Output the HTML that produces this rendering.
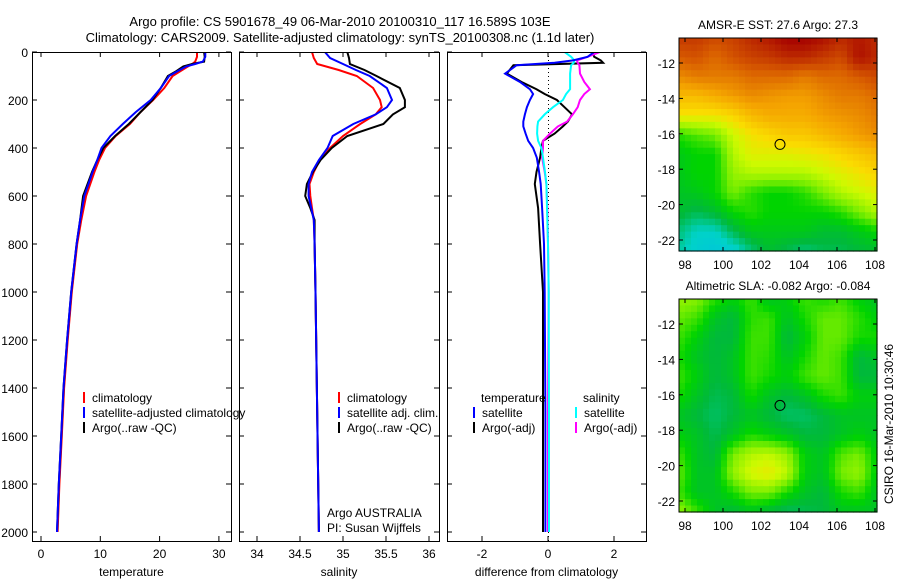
<!DOCTYPE html>
<html><head><meta charset="utf-8"><style>
body{margin:0;background:#fff;width:900px;height:580px;overflow:hidden}
svg{font-family:"Liberation Sans",sans-serif;font-size:12px}
</style></head><body>
<svg id="s" width="900" height="580" xmlns="http://www.w3.org/2000/svg">
<text x="340" y="26" text-anchor="middle" font-size="13">Argo profile: CS 5901678_49 06-Mar-2010 20100310_117 16.589S 103E</text>
<text x="340" y="42" text-anchor="middle" font-size="13">Climatology: CARS2009. Satellite-adjusted climatology: synTS_20100308.nc (1.1d later)</text>
<g id="g"></g>
<text transform="translate(893,424) rotate(-90)" text-anchor="middle">CSIRO 16-Mar-2010 10:30:46</text>
</svg>
<script>
// ---- profile data ----
const tDepth=[0,20,40,50,60,80,100,150,200,250,300,350,400,450,500,600,700,800,1000,1200,1400,1600,1800,2000];
const tClim=[26.3,26.3,26.0,25.5,24.8,23.5,22.2,20.8,18.9,16.8,15.0,12.6,10.8,9.8,9.0,7.6,6.8,6.1,5.2,4.5,3.9,3.5,3.1,2.8];
const tSat=[27.7,27.7,27.3,26.0,24.5,23.0,21.6,20.2,18.5,16.0,13.8,11.7,10.2,9.5,8.7,7.3,6.6,6.0,5.1,4.4,3.8,3.4,3.0,2.7];
const tArgo=[27.5,27.6,27.5,25.5,24.0,22.8,21.4,20.2,18.8,16.8,14.8,12.5,10.5,9.5,8.6,7.1,6.6,6.0,5.1,4.4,3.8,3.4,3.0,2.7];
const sDepth=[0,25,50,75,100,150,200,230,260,300,350,400,450,500,550,600,650,700,800,1000,1500,2000];
const sClim=[34.64,34.66,34.70,34.95,35.16,35.35,35.43,35.45,35.38,35.20,35.00,34.85,34.73,34.66,34.61,34.62,34.64,34.66,34.67,34.68,34.70,34.72];
const sSat=[34.79,34.85,35.0,35.15,35.31,35.51,35.57,35.51,35.38,35.12,34.88,34.82,34.72,34.64,34.60,34.60,34.63,34.66,34.67,34.68,34.70,34.72];
const sArgo=[35.05,35.07,35.08,35.25,35.39,35.66,35.72,35.72,35.58,35.47,35.05,34.87,34.74,34.65,34.58,34.56,34.62,34.67,34.67,34.68,34.70,34.72];
const dDepth=[0,20,35,45,55,90,125,155,175,200,230,260,290,310,340,370,400,440,500,550,650,800,1000,1500,2000];
const dTSat=[1.4,1.2,0.76,0.2,-0.95,-1.3,-0.85,-0.55,-0.45,-0.55,-0.64,-0.7,-0.75,-0.75,-0.68,-0.6,-0.45,-0.34,-0.27,-0.22,-0.18,-0.12,-0.1,-0.08,-0.08];
const dTArgo=[1.35,1.4,1.6,1.67,-1.05,-1.25,-0.8,-0.35,-0.1,0.27,0.5,0.73,0.6,0.45,0.2,-0.15,-0.2,-0.24,-0.35,-0.4,-0.3,-0.24,-0.15,-0.15,-0.15];
const dSSat=[0.5,0.7,0.8,0.78,0.7,0.67,0.67,0.67,0.55,0.45,0.15,-0.1,-0.3,-0.32,-0.33,-0.3,-0.2,-0.15,-0.09,-0.05,-0.03,0.0,0.02,0.03,0.03];
const dSArgo=[1.58,1.2,0.88,0.9,0.95,0.97,1.1,1.27,1.1,0.97,0.9,0.75,0.58,0.3,0.06,-0.15,-0.15,-0.18,-0.1,-0.05,-0.02,0.0,0.02,0.0,0.0];
const depthTicks=[0,200,400,600,800,1000,1200,1400,1600,1800,2000];
const tTicks=[0,10,20,30];
const sTicks=[34,34.5,35,35.5,36];
const dTicks=[-2,0,2];
// ---- map data (normalised colour value 0..1) ----
const sstGrid=[
[0.88,0.88,0.86,0.87,0.9,0.92,0.95,0.95,0.93,0.9,0.92,0.9],
[0.84,0.85,0.82,0.85,0.87,0.88,0.9,0.9,0.88,0.86,0.93,0.9],
[0.78,0.8,0.8,0.8,0.82,0.82,0.82,0.8,0.82,0.82,0.84,0.86],
[0.72,0.72,0.74,0.76,0.78,0.77,0.76,0.76,0.78,0.8,0.8,0.82],
[0.66,0.66,0.66,0.68,0.72,0.74,0.74,0.74,0.76,0.77,0.78,0.8],
[0.52,0.54,0.56,0.62,0.66,0.68,0.7,0.7,0.72,0.74,0.76,0.78],
[0.48,0.5,0.5,0.6,0.64,0.64,0.64,0.65,0.66,0.68,0.7,0.72],
[0.48,0.5,0.5,0.58,0.6,0.6,0.6,0.6,0.62,0.64,0.66,0.68],
[0.47,0.48,0.5,0.56,0.52,0.5,0.5,0.52,0.56,0.6,0.62,0.64],
[0.46,0.44,0.46,0.5,0.52,0.5,0.5,0.5,0.5,0.52,0.56,0.6],
[0.42,0.38,0.38,0.44,0.48,0.48,0.48,0.48,0.46,0.46,0.48,0.5],
[0.4,0.36,0.34,0.36,0.42,0.46,0.44,0.42,0.44,0.44,0.45,0.46]];
const slaGrid=[
[0.58,0.57,0.52,0.49,0.53,0.47,0.49,0.53,0.51,0.53,0.49,0.47],
[0.55,0.53,0.47,0.45,0.52,0.53,0.47,0.51,0.55,0.55,0.52,0.49],
[0.53,0.49,0.45,0.45,0.53,0.53,0.45,0.49,0.55,0.55,0.51,0.51],
[0.51,0.47,0.45,0.47,0.53,0.52,0.47,0.51,0.55,0.53,0.45,0.47],
[0.53,0.49,0.45,0.47,0.53,0.51,0.49,0.53,0.55,0.53,0.45,0.45],
[0.51,0.47,0.44,0.45,0.51,0.47,0.45,0.47,0.51,0.53,0.49,0.49],
[0.47,0.45,0.43,0.45,0.47,0.45,0.43,0.43,0.45,0.47,0.47,0.47],
[0.49,0.47,0.44,0.47,0.51,0.49,0.47,0.45,0.45,0.47,0.49,0.47],
[0.53,0.47,0.45,0.56,0.6,0.61,0.58,0.49,0.47,0.54,0.56,0.49],
[0.55,0.47,0.47,0.58,0.63,0.65,0.61,0.49,0.47,0.56,0.58,0.49],
[0.53,0.47,0.47,0.51,0.56,0.56,0.51,0.47,0.45,0.51,0.53,0.47],
[0.58,0.53,0.47,0.45,0.47,0.45,0.43,0.44,0.45,0.47,0.47,0.47]];
const latTicks=[-12,-14,-16,-18,-20,-22];
const lonTicks=[98,100,102,104,106,108];
const argoLon=103, argoLat=-16.6;

const NS="http://www.w3.org/2000/svg", G=document.getElementById('g');
function el(t,a,p){const e=document.createElementNS(NS,t);for(const k in a)e.setAttribute(k,a[k]);(p||G).appendChild(e);return e;}
function txt(x,y,s,anchor,p){const e=el('text',{x:x,y:y,'text-anchor':anchor||'start'},p);e.textContent=s;return e;}
const yTop=52,yBot=541;
const yD=d=>yTop+d*0.24;
function panel(name,x0,x1,xf,ticks,label,series,depths){
  const g=el('g',{});
  
  
  const cp='clip-'+name;
  const c=el('clipPath',{id:cp},g);el('rect',{x:x0,y:yTop,width:x1-x0,height:yBot-yTop},c);
  series.forEach(s=>{
    const pts=s.v.map((v,i)=>xf(v).toFixed(1)+','+yD(depths[i]).toFixed(1)).join(' ');
    const pl=el('polyline',{points:pts,fill:'none',stroke:s.c,'stroke-width':2,'clip-path':'url(#'+cp+')'},g);
    
    
  });
  const fr=el('rect',{x:x0+0.5,y:yTop+0.5,width:x1-x0,height:yBot-yTop,fill:'none',stroke:'#000'},g);
  
  
  depthTicks.forEach(d=>{const y=yD(d);
    el('line',{x1:x0,x2:x0+5,y1:y,y2:y,stroke:'#000'},g);el('line',{x1:x1-5,x2:x1,y1:y,y2:y,stroke:'#000'},g);});
  ticks.forEach(t=>{const x=xf(t);
    el('line',{x1:x,x2:x,y1:yBot-5,y2:yBot,stroke:'#000'},g);el('line',{x1:x,x2:x,y1:yTop,y2:yTop+5,stroke:'#000'},g);
    const tl=txt(x,558,String(t),'middle',g);
    
    });
  const xl=txt((x0+x1)/2,576,label,'middle',g);
  
  
  return g;
}
const xT=v=>41+v*5.93, xS=v=>257+(v-34)*86, xDf=v=>548+v*33;
panel('temperature-panel',32,231,xT,tTicks,'temperature',[{v:tClim,c:'#f00',n:'temp-climatology-line'},{v:tArgo,c:'#000',n:'temp-argo-line'},{v:tSat,c:'#00f',n:'temp-satellite-line'}],tDepth);
panel('salinity-panel',239,439,xS,sTicks,'salinity',[{v:sClim,c:'#f00',n:'sal-climatology-line'},{v:sArgo,c:'#000',n:'sal-argo-line'},{v:sSat,c:'#00f',n:'sal-satellite-line'}],sDepth);
el('line',{x1:548.5,x2:548.5,y1:yTop,y2:yBot,stroke:'#000','stroke-dasharray':'1,3'});
panel('difference-panel',447,646,xDf,dTicks,'difference from climatology',[{v:dTArgo,c:'#000',n:'diff-temp-argo-line'},{v:dSArgo,c:'#f0f',n:'diff-sal-argo-line'},{v:dSSat,c:'#0ff',n:'diff-sal-satellite-line'},{v:dTSat,c:'#00f',n:'diff-temp-satellite-line'}],dDepth);
depthTicks.forEach(d=>{const t=txt(28,yD(d)+5,String(d),'end');
  
  });
// legends
function leg(x,y,c,s,name){const g=el('g',{});
  
  
  el('line',{x1:x,x2:x,y1:y-10,y2:y+1,stroke:c,'stroke-width':2},g);
  if(s)txt(x+8,y,s,'start',g);}
leg(84,402,'#f00','climatology','legend-climatology');
leg(84,417,'#00f','satellite-adjusted climatology','legend-satellite');
leg(84,432,'#000','Argo(..raw -QC)','legend-argo');
leg(339,402,'#f00','climatology','legend2-climatology');
leg(339,417,'#00f','satellite adj. clim.','legend2-satellite');
leg(339,432,'#000','Argo(..raw -QC)','legend2-argo');
txt(481,402,'temperature');txt(583,402,'salinity');
leg(474,417,'#00f','satellite','legend3-temp-satellite');
leg(474,432,'#000','Argo(-adj)','legend3-temp-argo');
leg(576,417,'#0ff','satellite','legend3-sal-satellite');
leg(576,432,'#f0f','Argo(-adj)','legend3-sal-argo');
txt(327,517,'Argo AUSTRALIA');txt(327,532,'PI: Susan Wijffels');
// maps
const stops=[[0.3,[0,190,230]],[0.38,[0,210,200]],[0.45,[0,185,60]],[0.5,[0,212,0]],[0.56,[120,238,0]],[0.62,[205,250,0]],[0.67,[250,220,0]],[0.75,[245,165,0]],[0.84,[215,90,0]],[0.95,[165,0,0]]];
function cmap(v){if(v<=stops[0][0])return stops[0][1];for(let i=1;i<stops.length;i++){if(v<=stops[i][0]){const a=stops[i-1],b=stops[i],f=(v-a[0])/(b[0]-a[0]);return a[1].map((c,k)=>Math.round(c+(b[1][k]-c)*f));}}return stops[stops.length-1][1];}
function drawMap(name,grid,y0,title){
  const x0=679,w=198,h=213,N=33;
  const g=el('g',{});
  
  
  const R=grid.length,C=grid[0].length;
  for(let i=0;i<N;i++)for(let j=0;j<N;j++){
    const fy=(i+0.5)/N*(R-1),fx=(j+0.5)/N*(C-1);
    const r=Math.floor(fy),c=Math.floor(fx),dy=fy-r,dx=fx-c,r2=Math.min(r+1,R-1),c2=Math.min(c+1,C-1);
    const v=grid[r][c]*(1-dx)*(1-dy)+grid[r][c2]*dx*(1-dy)+grid[r2][c]*(1-dx)*dy+grid[r2][c2]*dx*dy;
    const col=cmap(v);
    const cell=el('rect',{x:(x0+j*w/N).toFixed(2),y:(y0+i*h/N).toFixed(2),width:(w/N+0.6).toFixed(2),height:(h/N+0.6).toFixed(2),fill:'rgb('+col.join(',')+')'},g);
    
    
  }
  el('rect',{x:x0,y:y0,width:w,height:h,fill:'none',stroke:'#000'},g);
  const lx=v=>685+(v-98)*19, ly=v=>y0+25+(-12-v)*17.7;
  latTicks.forEach(t=>{const y=ly(t);el('line',{x1:x0,x2:x0+4,y1:y,y2:y,stroke:'#000'},g);el('line',{x1:x0+w-4,x2:x0+w,y1:y,y2:y,stroke:'#000'},g);
    const l=txt(675,y+5,String(t),'end',g);});
  lonTicks.forEach(t=>{const x=lx(t);el('line',{x1:x,x2:x,y1:y0+h-4,y2:y0+h,stroke:'#000'},g);el('line',{x1:x,x2:x,y1:y0,y2:y0+4,stroke:'#000'},g);
    const l=txt(x,y0+h+18,String(t),'middle',g);});
  const c=el('circle',{cx:lx(argoLon),cy:ly(argoLat),r:5,fill:'none',stroke:'#000'},g);
  
  
  const tt=txt(778,y0-9,title,'middle',g);
  
  
}
drawMap('sst-map',sstGrid,38,'AMSR-E SST: 27.6 Argo: 27.3');
drawMap('sla-map',slaGrid,299,'Altimetric SLA: -0.082 Argo: -0.084');
</script>
</body></html>
